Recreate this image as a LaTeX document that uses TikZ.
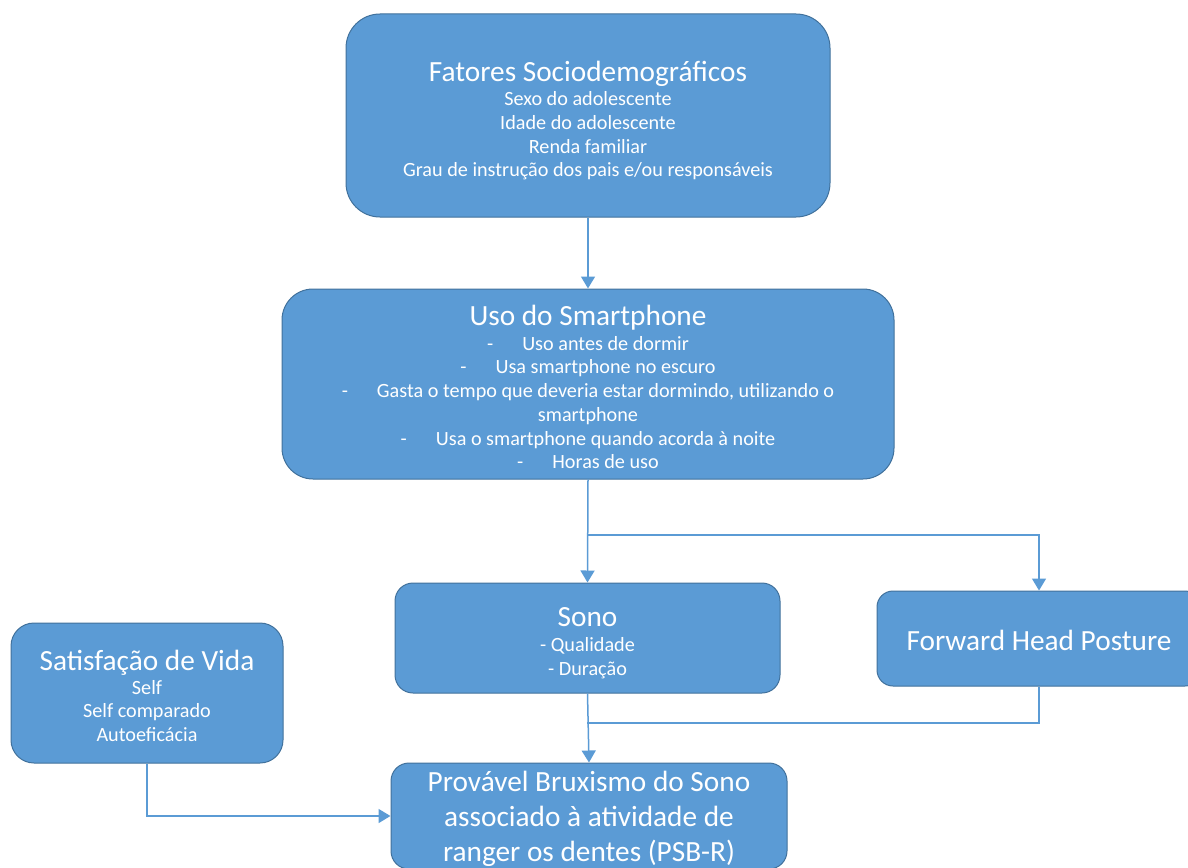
\documentclass[tikz,border=0pt]{standalone}
\usepackage{fontspec}
\setmainfont{Carlito}
\usetikzlibrary{arrows.meta}
\definecolor{boxfill}{HTML}{5B9BD5}
\definecolor{boxline}{HTML}{41719C}
\definecolor{linecol}{HTML}{5B9BD5}
\newcommand{\mytitle}[1]{{\fontsize{29.3}{24}\selectfont #1}}
\newcommand{\dashitem}[1]{-\hspace{29pt}#1}
\begin{document}
\begin{tikzpicture}[x=1pt,y=-1pt,
  box/.style={draw=boxline, line width=1pt, fill=boxfill, rounded corners=#1, inner sep=0pt},
  txt/.style={text=white, align=center, inner sep=0pt, font=\fontsize{20.2}{23.7}\selectfont},
  conn/.style={draw=linecol, line width=1.5pt, -{Triangle[width=14pt,length=12pt]}},
  plain/.style={draw=linecol, line width=1.5pt}]
\useasboundingbox (0,0) rectangle (1188,867);
\begin{scope}
\clip (0,0) rectangle (1188,867);
\node[box=34pt, minimum width=484pt, minimum height=203pt] (fat) at (588,115.5) {};
\node[txt] (fat-t) at ([yshift=-5pt]fat.center)
  {\mytitle{Fatores Sociodemográficos}\\[1pt]Sexo do adolescente\\Idade do adolescente\\Renda familiar\\Grau de instrução dos pais e/ou responsáveis};
\node[box=31pt, minimum width=612pt, minimum height=190pt] (uso) at (588,384) {};
\node[txt] (uso-t) at ([yshift=-3pt]uso.center)
  {\mytitle{Uso do Smartphone}\\[1pt]\dashitem{Uso antes de dormir}\\\dashitem{Usa smartphone no escuro}\\\dashitem{Gasta o tempo que deveria estar dormindo, utilizando o}\\smartphone\\\dashitem{Usa o smartphone quando acorda à noite}\\\dashitem{Horas de uso}};
\node[box=18pt, minimum width=385pt, minimum height=110pt] (sono) at (587.5,638) {};
\node[txt] (sono-t) at ([yshift=-5pt]sono.center)
  {\mytitle{Sono}\\[2pt]- Qualidade\\- Duração};
\node[box=16pt, minimum width=324pt, minimum height=95pt] (fhp) at (1039,638.5) {};
\node[txt] (fhp-t) at ([yshift=-2pt]fhp.center) {\mytitle{Forward Head Posture}};
\node[box=23pt, minimum width=272pt, minimum height=140pt] (sat) at (147,693) {};
\node[txt] (sat-t) at ([yshift=-3pt]sat.center)
  {\mytitle{Satisfação de Vida}\\Self\\Self comparado\\Autoeficácia};
\node[box=18pt, minimum width=396pt, minimum height=106pt] (prov) at (589,816) {};
\node[txt, font=\fontsize{29.3}{35}\selectfont] (prov-t) at ([yshift=-3pt]prov.center)
  {Provável Bruxismo do Sono\\associado à atividade de\\ranger os dentes (PSB-R)};
\coordinate (br) at (587,535);
\coordinate (jn) at (587,723);
\draw[conn] (fat.south) -- (uso.north);
\draw[conn] (uso.south) -- (sono.north);
\draw[conn] (br) -| (fhp.north);
\draw[conn] (sono.south) -- (prov.north);
\draw[plain] (fhp.south) |- (jn);
\draw[conn] (sat.south) |- (prov.west);
\end{scope}
\end{tikzpicture}
\end{document}
